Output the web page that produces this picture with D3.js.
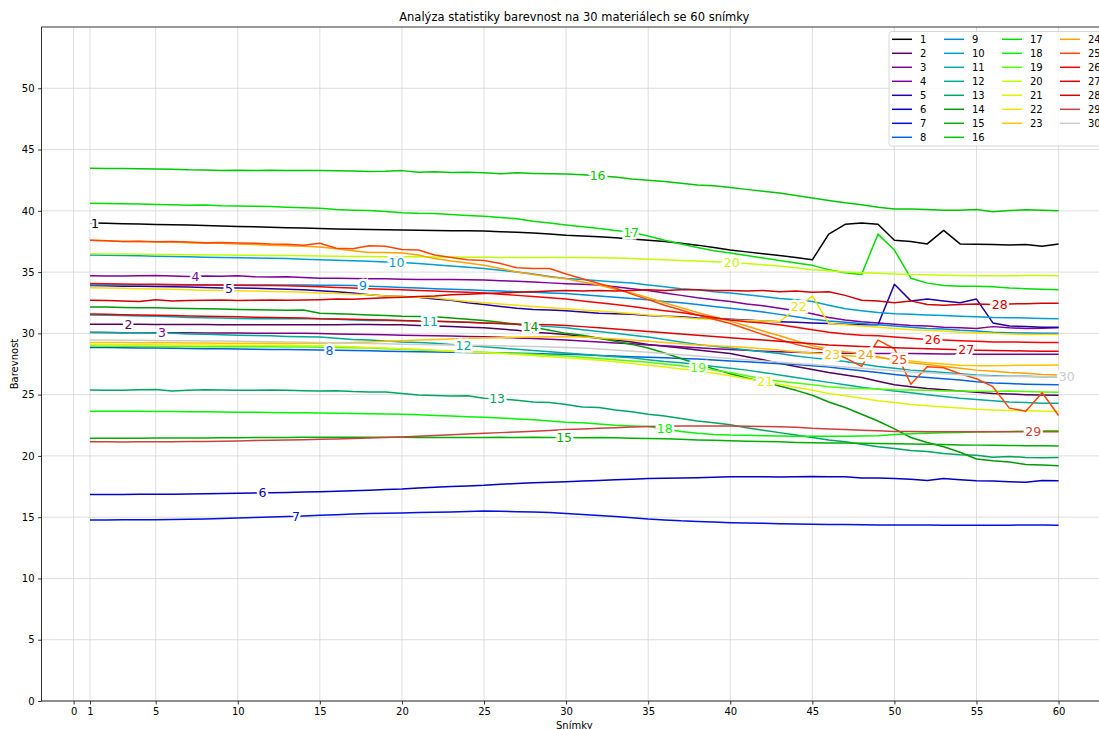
<!DOCTYPE html>
<html>
<head>
<meta charset="utf-8">
<script src="https://cdn.jsdelivr.net/npm/d3@7"></script>
<style>
  body { margin: 0; background: #fff; }
  text { font-family: "DejaVu Sans", sans-serif; }
</style>
</head>
<body>
<svg id="chart" width="1099" height="729"></svg>
<script>
// frames 1..60
const frames = d3.range(1, 61)
const xTicks = [0, 1, 5, 10, 15, 20, 25, 30, 35, 40, 45, 50, 55, 60]
const yTicks = [0, 5, 10, 15, 20, 25, 30, 35, 40, 45, 50]
const names = d3.range(1, 31).map(String)

const s1 = [39.0, 38.98, 38.95, 38.92, 38.88, 38.86, 38.84, 38.8, 38.76, 38.72,
  38.7, 38.66, 38.62, 38.6, 38.56, 38.52, 38.5, 38.48, 38.46, 38.44,
  38.42, 38.4, 38.38, 38.37, 38.35, 38.3, 38.25, 38.18, 38.1, 38.0,
  37.95, 37.88, 37.8, 37.7, 37.6, 37.5, 37.35, 37.2, 37.0, 36.8,
  36.65, 36.5, 36.35, 36.2, 36.0, 38.1, 38.9, 39.0, 38.9, 37.6,
  37.5, 37.3, 38.4, 37.3, 37.28, 37.25, 37.22, 37.25, 37.1, 37.3]
const s2 = [30.75, 30.75, 30.74, 30.74, 30.73, 30.72, 30.72, 30.72, 30.71, 30.7,
  30.7, 30.7, 30.7, 30.7, 30.7, 30.7, 30.72, 30.72, 30.7, 30.7,
  30.65, 30.6, 30.55, 30.5, 30.45, 30.35, 30.25, 30.1, 30.0, 29.9,
  29.75, 29.6, 29.45, 29.3, 29.1, 28.95, 28.8, 28.65, 28.5, 28.35,
  28.1, 27.85, 27.55, 27.3, 27.05, 26.8, 26.6, 26.4, 26.1, 25.8,
  25.65, 25.5, 25.4, 25.3, 25.2, 25.1, 25.05, 25.0, 24.97, 24.95]
const s3 = [30.07, 30.07, 30.06, 30.06, 30.05, 30.05, 30.04, 30.03, 30.02, 30.02,
  30.01, 30.0, 30.0, 30.0, 29.98, 29.95, 29.92, 29.9, 29.88, 29.85,
  29.82, 29.8, 29.78, 29.75, 29.72, 29.68, 29.62, 29.58, 29.52, 29.45,
  29.38, 29.3, 29.22, 29.15, 29.05, 28.98, 28.9, 28.82, 28.75, 28.68,
  28.62, 28.55, 28.5, 28.45, 28.42, 28.4, 28.38, 28.38, 28.36, 28.35,
  28.35, 28.33, 28.32, 28.32, 28.3, 28.3, 28.3, 28.3, 28.3, 28.3]
const s4 = [34.7, 34.68, 34.68, 34.7, 34.72, 34.68, 34.65, 34.68, 34.66, 34.7,
  34.62, 34.6, 34.62, 34.55, 34.5, 34.5, 34.48, 34.45, 34.45, 34.42,
  34.4, 34.4, 34.4, 34.38, 34.35, 34.3, 34.25, 34.2, 34.12, 34.05,
  34.0, 33.95, 33.8, 33.65, 33.5, 33.3, 33.1, 32.9, 32.75, 32.6,
  32.4, 32.25, 32.05, 31.85, 31.6, 31.3, 31.1, 30.95, 30.85, 30.75,
  30.65, 30.6, 30.5, 30.45, 30.4, 30.55, 30.45, 30.4, 30.42, 30.45]
const s5 = [33.9, 33.88, 33.85, 33.85, 33.82, 33.8, 33.78, 33.75, 33.7, 33.7,
  33.68, 33.65, 33.6, 33.55, 33.47, 33.4, 33.3, 33.15, 33.05, 33.0,
  32.95, 32.8, 32.7, 32.5, 32.35, 32.2, 32.05, 31.95, 31.9, 31.85,
  31.75, 31.65, 31.6, 31.55, 31.45, 31.4, 31.35, 31.25, 31.2, 31.15,
  31.1, 31.0, 30.95, 30.9, 30.85, 30.8, 30.75, 30.7, 30.7, 34.0,
  32.65, 32.8, 32.65, 32.5, 32.8, 30.85, 30.6, 30.55, 30.5, 30.5]
const s6 = [16.85, 16.85, 16.85, 16.87, 16.88, 16.88, 16.9, 16.92, 16.93, 16.95,
  16.98, 17.0, 17.02, 17.05, 17.08, 17.12, 17.15, 17.2, 17.25, 17.3,
  17.38, 17.45, 17.5, 17.55, 17.6, 17.68, 17.75, 17.8, 17.85, 17.9,
  17.95, 18.0, 18.05, 18.1, 18.15, 18.18, 18.2, 18.22, 18.25, 18.3,
  18.3, 18.3, 18.28, 18.3, 18.32, 18.3, 18.3, 18.2, 18.2, 18.15,
  18.1, 18.0, 18.15, 18.05, 17.97, 17.95, 17.9, 17.85, 18.0, 17.97]
const s7 = [14.78, 14.78, 14.79, 14.8, 14.8, 14.82, 14.84, 14.86, 14.9, 14.94,
  14.98, 15.02, 15.06, 15.1, 15.15, 15.2, 15.25, 15.3, 15.32, 15.35,
  15.38, 15.4, 15.43, 15.46, 15.5, 15.48, 15.45, 15.42, 15.38, 15.3,
  15.22, 15.14, 15.05, 14.95, 14.85, 14.78, 14.7, 14.65, 14.6, 14.55,
  14.52, 14.5, 14.47, 14.45, 14.42, 14.4, 14.4, 14.38, 14.37, 14.37,
  14.36, 14.36, 14.35, 14.35, 14.35, 14.35, 14.35, 14.36, 14.36, 14.35]
const s8 = [28.85, 28.84, 28.82, 28.8, 28.8, 28.78, 28.76, 28.75, 28.74, 28.72,
  28.7, 28.69, 28.68, 28.66, 28.65, 28.62, 28.6, 28.58, 28.55, 28.52,
  28.5, 28.48, 28.46, 28.44, 28.42, 28.4, 28.38, 28.35, 28.32, 28.3,
  28.25, 28.2, 28.15, 28.1, 28.05, 28.0, 27.95, 27.9, 27.82, 27.75,
  27.68, 27.6, 27.52, 27.45, 27.35, 27.25, 27.1, 26.95, 26.8, 26.65,
  26.5, 26.4, 26.3, 26.2, 26.05, 25.95, 25.9, 25.85, 25.82, 25.8]
const s9 = [33.95, 33.95, 33.94, 33.95, 33.96, 33.95, 33.95, 33.94, 33.94, 33.95,
  33.95, 33.94, 33.95, 33.95, 33.93, 33.92, 33.9, 33.85, 33.8, 33.75,
  33.7, 33.65, 33.6, 33.55, 33.5, 33.45, 33.4, 33.35, 33.3, 33.25,
  33.15, 33.05, 32.95, 32.85, 32.75, 32.6, 32.5, 32.35, 32.2, 32.05,
  31.9, 31.75, 31.55, 31.35, 31.15, 31.0, 30.9, 30.8, 30.7, 30.6,
  30.5, 30.4, 30.35, 30.25, 30.2, 30.1, 30.05, 30.02, 30.0, 30.0]
const s10 = [36.4, 36.38, 36.35, 36.33, 36.3, 36.28, 36.25, 36.22, 36.2, 36.18,
  36.15, 36.12, 36.1, 36.05, 36.0, 35.97, 35.93, 35.88, 35.82, 35.78,
  35.7, 35.6, 35.5, 35.4, 35.3, 35.15, 35.0, 34.85, 34.65, 34.48,
  34.4, 34.3, 34.2, 34.1, 33.95, 33.8, 33.65, 33.55, 33.4, 33.3,
  33.15, 33.0, 32.85, 32.75, 32.6, 32.3, 32.0, 31.85, 31.7, 31.6,
  31.55, 31.5, 31.45, 31.4, 31.35, 31.3, 31.28, 31.25, 31.22, 31.2]
const s11 = [31.5, 31.48, 31.45, 31.42, 31.4, 31.35, 31.3, 31.28, 31.25, 31.22,
  31.2, 31.2, 31.22, 31.2, 31.2, 31.15, 31.1, 31.05, 31.05, 31.02,
  31.0, 30.98, 30.95, 30.9, 30.85, 30.8, 30.75, 30.65, 30.55, 30.45,
  30.3, 30.15, 30.0, 29.85, 29.7, 29.5, 29.3, 29.1, 28.95, 28.8,
  28.65, 28.5, 28.35, 28.15, 28.0, 27.85, 27.7, 27.5, 27.3, 27.15,
  27.0, 26.9, 26.8, 26.7, 26.6, 26.55, 26.5, 26.5, 26.45, 26.45]
const s12 = [30.1, 30.08, 30.06, 30.05, 30.02, 30.0, 29.95, 29.92, 29.88, 29.85,
  29.82, 29.8, 29.75, 29.72, 29.7, 29.6, 29.5, 29.45, 29.38, 29.3,
  29.25, 29.2, 29.1, 29.0, 28.9, 28.8, 28.7, 28.6, 28.5, 28.4,
  28.3, 28.2, 28.1, 28.0, 27.85, 27.7, 27.6, 27.45, 27.3, 27.15,
  27.0, 26.8, 26.6, 26.4, 26.2, 26.0, 25.8, 25.6, 25.45, 25.3,
  25.15, 25.0, 24.85, 24.7, 24.6, 24.5, 24.4, 24.35, 24.3, 24.3]
const s13 = [25.37, 25.36, 25.35, 25.4, 25.42, 25.3, 25.35, 25.4, 25.38, 25.35,
  25.35, 25.38, 25.36, 25.32, 25.3, 25.32, 25.25, 25.22, 25.22, 25.1,
  24.98, 24.92, 24.88, 24.9, 24.7, 24.65, 24.55, 24.4, 24.35, 24.2,
  24.0, 23.95, 23.75, 23.6, 23.4, 23.25, 23.05, 22.85, 22.7, 22.55,
  22.3, 22.1, 21.9, 21.7, 21.5, 21.3, 21.15, 20.95, 20.75, 20.6,
  20.45, 20.35, 20.2, 20.1, 20.05, 19.9, 19.95, 19.88, 19.85, 19.87]
const s14 = [32.16, 32.15, 32.12, 32.1, 32.08, 32.05, 32.02, 32.0, 31.98, 31.95,
  31.92, 31.9, 31.88, 31.9, 31.65, 31.6, 31.55, 31.5, 31.45, 31.4,
  31.38, 31.35, 31.25, 31.15, 31.05, 30.9, 30.75, 30.5, 30.25, 30.0,
  29.85, 29.6, 29.35, 29.1, 28.8, 28.4, 27.95, 27.5, 27.1, 26.7,
  26.35, 26.05, 25.7, 25.35, 24.95, 24.4, 23.95, 23.4, 22.85, 22.2,
  21.5, 21.1, 20.75, 20.3, 19.75, 19.6, 19.5, 19.3, 19.25, 19.2]
const s15 = [21.45, 21.45, 21.44, 21.45, 21.46, 21.46, 21.47, 21.47, 21.48, 21.48,
  21.5, 21.5, 21.5, 21.52, 21.52, 21.53, 21.53, 21.52, 21.52, 21.52,
  21.5, 21.5, 21.5, 21.5, 21.5, 21.52, 21.5, 21.52, 21.5, 21.5,
  21.48, 21.5, 21.48, 21.45, 21.43, 21.4, 21.35, 21.3, 21.27, 21.23,
  21.2, 21.18, 21.15, 21.1, 21.07, 21.05, 21.05, 21.03, 21.02, 21.0,
  20.98, 20.95, 20.93, 20.9, 20.88, 20.87, 20.85, 20.83, 20.82, 20.8]
const s16 = [43.47, 43.46, 43.45, 43.44, 43.42, 43.4, 43.35, 43.33, 43.3, 43.32,
  43.3, 43.32, 43.3, 43.28, 43.3, 43.27, 43.25, 43.2, 43.22, 43.28,
  43.15, 43.18, 43.12, 43.15, 43.1, 43.02, 43.1, 43.05, 43.02, 43.0,
  42.95, 42.85, 42.75, 42.6, 42.5, 42.4, 42.25, 42.1, 42.05, 41.9,
  41.75, 41.6, 41.45, 41.25, 41.05, 40.85, 40.65, 40.5, 40.3, 40.15,
  40.15, 40.1, 40.05, 40.05, 40.1, 39.92, 40.02, 40.08, 40.05, 40.0]
const s17 = [40.62, 40.6, 40.58, 40.55, 40.52, 40.5, 40.45, 40.48, 40.42, 40.4,
  40.38, 40.35, 40.3, 40.25, 40.2, 40.1, 40.05, 40.02, 39.95, 39.85,
  39.8, 39.78, 39.7, 39.62, 39.55, 39.45, 39.35, 39.15, 39.0, 38.85,
  38.7, 38.55, 38.4, 38.25, 37.95, 37.6, 37.3, 37.0, 36.75, 36.55,
  36.35, 36.15, 35.95, 35.75, 35.55, 35.2, 34.95, 34.8, 38.1, 36.8,
  34.5, 34.1, 33.9, 33.85, 33.85, 33.8, 33.7, 33.65, 33.6, 33.55]
const s18 = [23.65, 23.65, 23.64, 23.65, 23.63, 23.62, 23.6, 23.6, 23.58, 23.57,
  23.56, 23.55, 23.53, 23.52, 23.5, 23.48, 23.46, 23.45, 23.42, 23.4,
  23.35, 23.3, 23.25, 23.2, 23.15, 23.1, 23.02, 22.95, 22.85, 22.75,
  22.7, 22.6, 22.5, 22.45, 22.4, 22.2, 22.0, 21.85, 21.75, 21.7,
  21.68, 21.65, 21.62, 21.6, 21.6, 21.6, 21.6, 21.62, 21.65, 21.75,
  21.8, 21.85, 21.88, 21.92, 21.95, 21.98, 22.0, 22.02, 22.05, 22.05]
const s19 = [28.96, 28.95, 28.95, 28.94, 28.93, 28.92, 28.92, 28.91, 28.9, 28.9,
  28.9, 28.9, 28.88, 28.88, 28.86, 28.84, 28.82, 28.8, 28.75, 28.7,
  28.65, 28.6, 28.55, 28.5, 28.45, 28.4, 28.35, 28.3, 28.22, 28.15,
  28.05, 27.95, 27.85, 27.75, 27.65, 27.5, 27.35, 27.2, 27.0, 26.8,
  26.55, 26.3, 26.1, 25.95, 25.8, 25.65, 25.55, 25.5, 25.45, 25.4,
  25.38, 25.35, 25.3, 25.3, 25.28, 25.25, 25.3, 25.25, 25.22, 25.2]
const s20 = [36.5, 36.48, 36.47, 36.45, 36.44, 36.43, 36.42, 36.4, 36.4, 36.38,
  36.37, 36.36, 36.35, 36.33, 36.32, 36.3, 36.28, 36.27, 36.26, 36.25,
  36.25, 36.24, 36.23, 36.22, 36.22, 36.2, 36.2, 36.2, 36.2, 36.2,
  36.2, 36.18, 36.15, 36.1, 36.05, 36.0, 35.95, 35.9, 35.85, 35.8,
  35.7, 35.6, 35.5, 35.35, 35.2, 35.1, 35.0, 34.95, 34.9, 34.85,
  34.8, 34.78, 34.75, 34.72, 34.7, 34.7, 34.7, 34.72, 34.72, 34.7]
const s21 = [29.1, 29.1, 29.08, 29.08, 29.07, 29.06, 29.05, 29.05, 29.04, 29.04,
  29.03, 29.02, 29.02, 29.0, 29.0, 28.95, 28.9, 28.85, 28.8, 28.75,
  28.7, 28.62, 28.55, 28.5, 28.42, 28.35, 28.28, 28.2, 28.1, 28.0,
  27.9, 27.8, 27.68, 27.55, 27.4, 27.25, 27.1, 26.95, 26.75, 26.55,
  26.3, 26.1, 25.85, 25.6, 25.35, 25.1, 24.9, 24.7, 24.5, 24.35,
  24.2, 24.1, 24.0, 23.9, 23.8, 23.75, 23.7, 23.7, 23.65, 23.65]
const s22 = [33.73, 33.7, 33.68, 33.65, 33.62, 33.6, 33.55, 33.52, 33.5, 33.48,
  33.45, 33.42, 33.4, 33.35, 33.3, 33.25, 33.2, 33.15, 33.05, 33.0,
  32.95, 32.9, 32.75, 32.6, 32.5, 32.4, 32.3, 32.2, 32.1, 32.0,
  31.9, 31.82, 31.72, 31.62, 31.5, 31.4, 31.3, 31.2, 31.15, 31.1,
  31.05, 31.0, 30.95, 32.0, 33.05, 30.8, 30.7, 30.6, 30.5, 30.4,
  30.3, 30.25, 30.2, 30.1, 30.05, 30.0, 29.95, 29.9, 29.9, 29.9]
const s23 = [29.26, 29.25, 29.25, 29.24, 29.25, 29.23, 29.22, 29.22, 29.2, 29.2,
  29.2, 29.2, 29.18, 29.2, 29.2, 29.22, 29.25, 29.3, 29.35, 29.4,
  29.45, 29.5, 29.55, 29.6, 29.62, 29.65, 29.68, 29.7, 29.72, 29.75,
  29.7, 29.62, 29.55, 29.45, 29.35, 29.25, 29.15, 29.05, 28.98, 28.92,
  28.85, 28.75, 28.65, 28.5, 28.4, 28.3, 28.2, 28.1, 28.0, 27.9,
  27.75, 27.6, 27.5, 27.4, 27.35, 27.35, 27.38, 27.4, 27.4, 27.42]
const s24 = [37.6, 37.55, 37.5, 37.5, 37.45, 37.45, 37.4, 37.35, 37.35, 37.3,
  37.25, 37.2, 37.15, 37.1, 37.05, 36.9, 36.75, 36.6, 36.6, 36.55,
  36.4, 36.1, 35.9, 35.75, 35.55, 35.3, 35.0, 34.8, 34.6, 34.45,
  34.2, 33.95, 33.6, 33.3, 32.9, 32.5, 32.1, 31.7, 31.35, 31.0,
  30.6, 30.2, 29.8, 29.4, 29.0, 28.7, 28.5, 28.35, 28.1, 27.8,
  27.6, 27.45, 27.3, 27.15, 27.0, 26.9, 26.8, 26.75, 26.65, 26.6]
const s25 = [37.6, 37.55, 37.5, 37.52, 37.48, 37.5, 37.45, 37.4, 37.42, 37.38,
  37.35, 37.3, 37.28, 37.2, 37.35, 36.95, 36.9, 37.15, 37.1, 36.85,
  36.8, 36.4, 36.2, 36.0, 35.95, 35.7, 35.35, 35.3, 35.3, 34.85,
  34.45, 34.07, 33.7, 33.2, 32.75, 32.3, 31.9, 31.5, 31.15, 30.8,
  30.35, 29.9, 29.5, 29.1, 28.8, 28.6, 28.0, 27.3, 29.45, 28.75,
  25.85, 27.27, 27.2, 26.7, 26.3, 25.65, 23.9, 23.65, 25.15, 23.3]
const s26 = [34.07, 34.05, 34.02, 34.0, 34.0, 33.98, 33.97, 33.95, 33.95, 33.92,
  33.9, 33.9, 33.88, 33.85, 33.8, 33.75, 33.7, 33.65, 33.6, 33.55,
  33.5, 33.45, 33.4, 33.35, 33.3, 33.2, 33.1, 33.0, 32.9, 32.8,
  32.65, 32.5, 32.35, 32.2, 32.0, 31.85, 31.7, 31.5, 31.3, 31.1,
  30.95, 30.85, 30.7, 30.5, 30.3, 30.1, 29.95, 29.85, 29.8, 29.7,
  29.6, 29.5, 29.45, 29.4, 29.35, 29.3, 29.3, 29.28, 29.25, 29.25]
const s27 = [31.57, 31.55, 31.52, 31.5, 31.48, 31.45, 31.42, 31.4, 31.38, 31.35,
  31.32, 31.3, 31.28, 31.25, 31.2, 31.18, 31.15, 31.12, 31.1, 31.05,
  31.0, 30.98, 30.95, 30.9, 30.85, 30.8, 30.75, 30.72, 30.7, 30.65,
  30.55, 30.45, 30.35, 30.25, 30.15, 30.05, 29.95, 29.85, 29.75, 29.65,
  29.55, 29.45, 29.35, 29.25, 29.15, 29.05, 28.98, 28.92, 28.88, 28.82,
  28.78, 28.75, 28.7, 28.66, 28.62, 28.6, 28.58, 28.56, 28.55, 28.55]
const s28 = [32.7, 32.68, 32.65, 32.6, 32.75, 32.65, 32.68, 32.7, 32.72, 32.68,
  32.7, 32.72, 32.7, 32.72, 32.75, 32.8, 32.78, 32.85, 32.9, 32.95,
  33.0, 33.05, 33.15, 33.2, 33.25, 33.3, 33.35, 33.4, 33.45, 33.5,
  33.45, 33.5, 33.45, 33.5, 33.55, 33.5, 33.55, 33.55, 33.5, 33.5,
  33.45, 33.5, 33.4, 33.45, 33.35, 33.4, 33.1, 32.7, 32.65, 32.5,
  32.65, 32.35, 32.3, 32.35, 32.4, 32.35, 32.4, 32.42, 32.45, 32.45]
const s29 = [21.15, 21.15, 21.14, 21.15, 21.15, 21.16, 21.17, 21.18, 21.2, 21.22,
  21.25, 21.28, 21.3, 21.32, 21.35, 21.38, 21.42, 21.46, 21.5, 21.55,
  21.6, 21.66, 21.72, 21.78, 21.84, 21.9, 21.96, 22.02, 22.08, 22.15,
  22.2, 22.25, 22.3, 22.35, 22.4, 22.42, 22.45, 22.45, 22.45, 22.45,
  22.42, 22.4, 22.38, 22.33, 22.25, 22.2, 22.15, 22.1, 22.05, 22.0,
  22.0, 21.98, 21.98, 21.97, 21.97, 21.97, 21.97, 21.97, 21.97, 21.97]
const s30 = [29.45, 29.45, 29.44, 29.43, 29.42, 29.4, 29.4, 29.38, 29.37, 29.35,
  29.33, 29.32, 29.3, 29.28, 29.25, 29.22, 29.2, 29.18, 29.15, 29.12,
  29.1, 29.08, 29.05, 29.02, 29.0, 28.98, 28.95, 28.92, 28.88, 28.85,
  28.8, 28.72, 28.65, 28.55, 28.45, 28.35, 28.25, 28.15, 28.05, 27.95,
  27.85, 27.75, 27.65, 27.55, 27.45, 27.35, 27.25, 27.15, 27.05, 26.95,
  26.85, 26.78, 26.7, 26.62, 26.55, 26.5, 26.48, 26.46, 26.45, 26.45]

const series = [s1, s2, s3, s4, s5, s6, s7, s8, s9, s10, s11, s12, s13, s14, s15,
  s16, s17, s18, s19, s20, s21, s22, s23, s24, s25, s26, s27, s28, s29, s30]

// nipy_spectral colormap segments (matplotlib)
const cmapStops = [0, .05, .1, .15, .2, .25, .3, .35, .4, .45, .5, .55, .6, .65, .7, .75, .8, .85, .9, .95, 1]
const cmapR = [0, .4667, .5333, 0, 0, 0, 0, 0, 0, 0, 0, 0, 0, .7333, .9333, 1, 1, 1, .8667, .8, .8]
const cmapG = [0, 0, 0, 0, 0, .4667, .6, .6667, .6667, .6, .7333, .8667, 1, 1, .9333, .8, .6, 0, 0, 0, .8]
const cmapB = [0, .5333, .6, .6667, .8667, .8667, .8667, .6667, .5333, 0, 0, 0, 0, 0, 0, 0, 0, 0, 0, 0, .8]
const chR = d3.scaleLinear().domain(cmapStops).range(cmapR)
const chG = d3.scaleLinear().domain(cmapStops).range(cmapG)
const chB = d3.scaleLinear().domain(cmapStops).range(cmapB)
const colorAt = t => d3.rgb(chR(t) * 255, chG(t) * 255, chB(t) * 255).formatHex()
const colors = series.map((_, i) => colorAt(i / (series.length - 1)))

const plot = { left: 41.6, right: 1107, top: 27, bottom: 701 }

const svg = d3.select("#chart")

const x = d3.scaleLinear().domain([-1.95, 62.95]).range([plot.left, plot.right])
const y = d3.scaleLinear().domain([0, 55]).range([plot.bottom, plot.top])

// grid
const grid = svg.append("g").attr("stroke", "#d6d6d6").attr("stroke-width", 0.8)
grid.selectAll("line.gx").data(xTicks).join("line")
  .attr("x1", d => x(d)).attr("x2", d => x(d))
  .attr("y1", plot.top).attr("y2", plot.bottom)
grid.selectAll("line.gy").data(yTicks).join("line")
  .attr("x1", plot.left).attr("x2", plot.right)
  .attr("y1", d => y(d)).attr("y2", d => y(d))

// lines
const line = d3.line().x((d, i) => x(frames[i])).y(d => y(d))
svg.append("g")
  .selectAll("path")
  .data(series)
  .join("path")
  .attr("fill", "none")
  .attr("stroke", (d, i) => colors[i])
  .attr("stroke-width", 1.5)
  .attr("stroke-linejoin", "round")
  .attr("d", line)

// axes
const xAxis = d3.axisBottom(x).tickValues(xTicks).tickSize(3.5).tickPadding(3.5)
const yAxis = d3.axisLeft(y).tickValues(yTicks).tickSize(3.5).tickPadding(3.5)
const gx = svg.append("g").attr("transform", `translate(0,${plot.bottom})`).call(xAxis)
const gy = svg.append("g").attr("transform", `translate(${plot.left},0)`).call(yAxis)
for (const g of [gx, gy]) {
  g.select(".domain").remove()
  g.selectAll("text").attr("font-size", 10).attr("fill", "#000").attr("font-family", "DejaVu Sans")
  g.selectAll("line").attr("stroke", "#000").attr("stroke-width", 0.8)
}
// frame
svg.append("rect")
  .attr("x", plot.left).attr("y", plot.top)
  .attr("width", plot.right - plot.left).attr("height", plot.bottom - plot.top)
  .attr("fill", "none").attr("stroke", "#000").attr("stroke-width", 0.8)

// inline labels
const labelX = d3.range(series.length).map(i => 1.3 + i * (60.5 - 1.3) / (series.length - 1))
const valueAt = (s, xv) => {
  if (xv <= frames[0]) return s[0]
  if (xv >= frames[frames.length - 1]) return s[s.length - 1]
  const i = Math.floor(xv) - 1
  const t = xv - Math.floor(xv)
  return s[i] + (s[i + 1] - s[i]) * t
}
svg.append("g")
  .selectAll("text")
  .data(series)
  .join("text")
  .attr("x", (d, i) => x(labelX[i]))
  .attr("y", (d, i) => y(valueAt(d, labelX[i])))
  .attr("text-anchor", "middle")
  .attr("dominant-baseline", "central")
  .attr("font-size", 12.5)
  .attr("fill", (d, i) => colors[i])
  .attr("stroke", "#fff")
  .attr("stroke-width", 5)
  .attr("paint-order", "stroke")
  .text((d, i) => names[i])

// legend
const legendCols = [892, 944, 1002, 1060]
const rowsPerCol = [8, 8, 7, 7]
const legend = svg.append("g")
legend.append("rect")
  .attr("x", 889).attr("y", 31.5).attr("width", 212).attr("height", 114.5)
  .attr("rx", 2.5).attr("fill", "#fff").attr("fill-opacity", 0.8)
  .attr("stroke", "#cccccc").attr("stroke-width", 0.8)
let k = 0
rowsPerCol.forEach((n, c) => {
  for (let r = 0; r < n; r++, k++) {
    const ly = 39.3 + r * 14
    legend.append("line")
      .attr("x1", legendCols[c]).attr("x2", legendCols[c] + 20)
      .attr("y1", ly).attr("y2", ly)
      .attr("stroke", colors[k]).attr("stroke-width", 1.5)
    legend.append("text")
      .attr("x", legendCols[c] + 28).attr("y", ly)
      .attr("dominant-baseline", "central")
      .attr("font-size", 10)
      .text(names[k])
  }
})

// titles
svg.append("text")
  .attr("x", (plot.left + plot.right) / 2).attr("y", 17)
  .attr("text-anchor", "middle").attr("dominant-baseline", "central")
  .attr("font-size", 11.5)
  .text("Analýza statistiky barevnost na 30 materiálech se 60 snímky")
svg.append("text")
  .attr("x", (plot.left + plot.right) / 2).attr("y", 725)
  .attr("text-anchor", "middle").attr("dominant-baseline", "central")
  .attr("font-size", 10)
  .text("Snímky")
svg.append("text")
  .attr("transform", `translate(14,${(plot.top + plot.bottom) / 2}) rotate(-90)`)
  .attr("text-anchor", "middle").attr("dominant-baseline", "central")
  .attr("font-size", 10)
  .text("Barevnost")
</script>
</body>
</html>
